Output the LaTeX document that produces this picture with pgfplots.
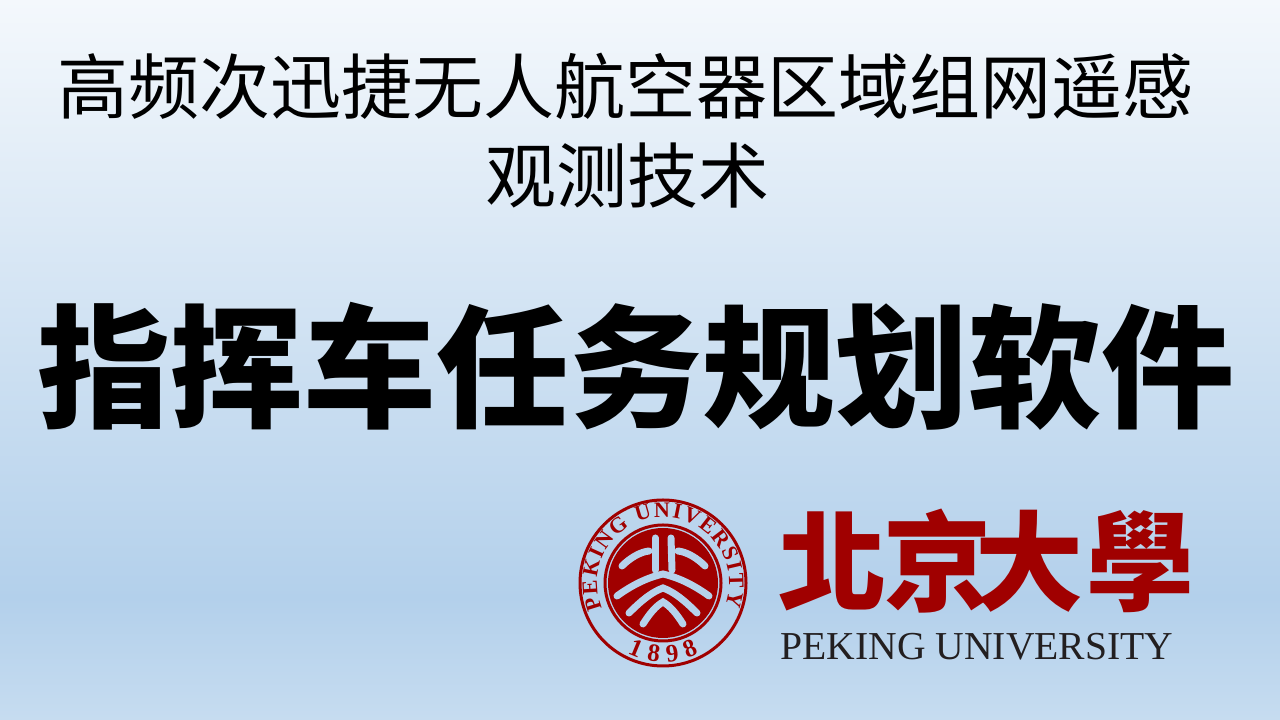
\documentclass[border=0pt]{standalone}
\usepackage{pgfplots}
\pgfplotsset{compat=1.18}
\usepackage{fontspec}
\usetikzlibrary{decorations.text}
\setmainfont{Liberation Serif}
\newfontfamily\cjk{Noto Sans CJK SC}
\newfontfamily\cjktc{Noto Sans CJK TC}
\definecolor{bgtop}{HTML}{F4F8FC}
\definecolor{bgmid}{HTML}{B3D0EB}
\definecolor{bgbot}{HTML}{C6DCF0}
\definecolor{pkured}{HTML}{A00000}
\definecolor{embl}{HTML}{B6D2EC}
\definecolor{engtext}{HTML}{231F20}
\pgfdeclareverticalshading{bgshade}{100bp}{color(0bp)=(bgbot); color(25bp)=(bgbot); color(33.5bp)=(bgmid); color(75bp)=(bgtop); color(100bp)=(bgtop)}
\begin{document}
\begin{tikzpicture}
\begin{axis}[
  width=640bp, height=360bp, scale only axis,
  hide axis,
  xmin=0, xmax=1280, ymin=0, ymax=720,
  y dir=reverse,
]
% background
\shade[shading=bgshade] (axis cs:0,0) rectangle (axis cs:1280,720);
% titles
\node[anchor=base, inner sep=0pt, font=\cjk\fontsize{35.5bp}{40bp}\selectfont] at (axis cs:625,114) {高频次迅捷无人航空器区域组网遥感};
\node[anchor=base, inner sep=0pt, font=\cjk\fontsize{35.5bp}{40bp}\selectfont] at (axis cs:627,203) {观测技术};
\node[anchor=base, inner sep=0pt, font=\cjk\bfseries\fontsize{66.5bp}{70bp}\selectfont] at (axis cs:636,418) {指挥车任务规划软件};
% calligraphy name
\node[anchor=base, inner sep=0pt, text=pkured, font=\cjktc\bfseries\fontsize{54bp}{60bp}\selectfont] at (axis cs:832,603) {北};
\node[anchor=base, inner sep=0pt, text=pkured, font=\cjktc\bfseries\fontsize{54bp}{60bp}\selectfont] at (axis cs:937,603) {京};
\node[anchor=base, inner sep=0pt, text=pkured, font=\cjktc\bfseries\fontsize{54bp}{60bp}\selectfont] at (axis cs:1029,603) {大};
\node[anchor=base, inner sep=0pt, text=pkured, font=\cjktc\bfseries\fontsize{54bp}{60bp}\selectfont] at (axis cs:1140,603) {學};
\node[anchor=base, inner sep=0pt, text=engtext, font=\fontsize{19.8bp}{22bp}\selectfont] at (axis cs:977,660) {PEKING UNIVERSITY};
% seal
\draw[pkured, line width=1.5bp] (axis cs:663,583) circle[radius=41.5bp];
\draw[pkured, line width=1.5bp] (axis cs:663,583) circle[radius=29bp];
\fill[pkured] (axis cs:663,583) circle[radius=27.5bp];
\path[decorate, decoration={text along path, text align={fit to path},
  text={|\bfseries\fontsize{11bp}{12bp}\selectfont\color{pkured}|PEKING UNIVERSITY}}]
  (axis cs:663,583) ++(203:33bp) arc[start angle=203, end angle=-20, radius=33bp];
\path[decorate, decoration={text along path, text align={fit to path},
  text={|\bfseries\fontsize{12.5bp}{14bp}\selectfont\color{pkured}|1898}}]
  (axis cs:663,583) ++(243:39.5bp) arc[start angle=243, end angle=297, radius=39.5bp];
% emblem
\begin{scope}[embl, line width=3.5bp, line cap=round]
\draw (axis cs:655,538) -- (axis cs:655,570);
\draw (axis cs:671,538) -- (axis cs:672,570);
\draw (axis cs:649,551) .. controls (axis cs:640,552) and (axis cs:630,558) .. (axis cs:622,566);
\draw (axis cs:678,551) .. controls (axis cs:687,552) and (axis cs:697,558) .. (axis cs:705,566);
\draw (axis cs:617,596) .. controls (axis cs:635,583) and (axis cs:650,577) .. (axis cs:663,574) .. controls (axis cs:676,577) and (axis cs:691,583) .. (axis cs:709,596);
\draw (axis cs:629,613) .. controls (axis cs:642,600) and (axis cs:652,592) .. (axis cs:663,588) .. controls (axis cs:674,592) and (axis cs:684,600) .. (axis cs:697,613);
\draw (axis cs:643,624) .. controls (axis cs:650,613) and (axis cs:656,606) .. (axis cs:663,602) .. controls (axis cs:670,606) and (axis cs:676,613) .. (axis cs:683,624);
\end{scope}
\end{axis}
\end{tikzpicture}
\end{document}
